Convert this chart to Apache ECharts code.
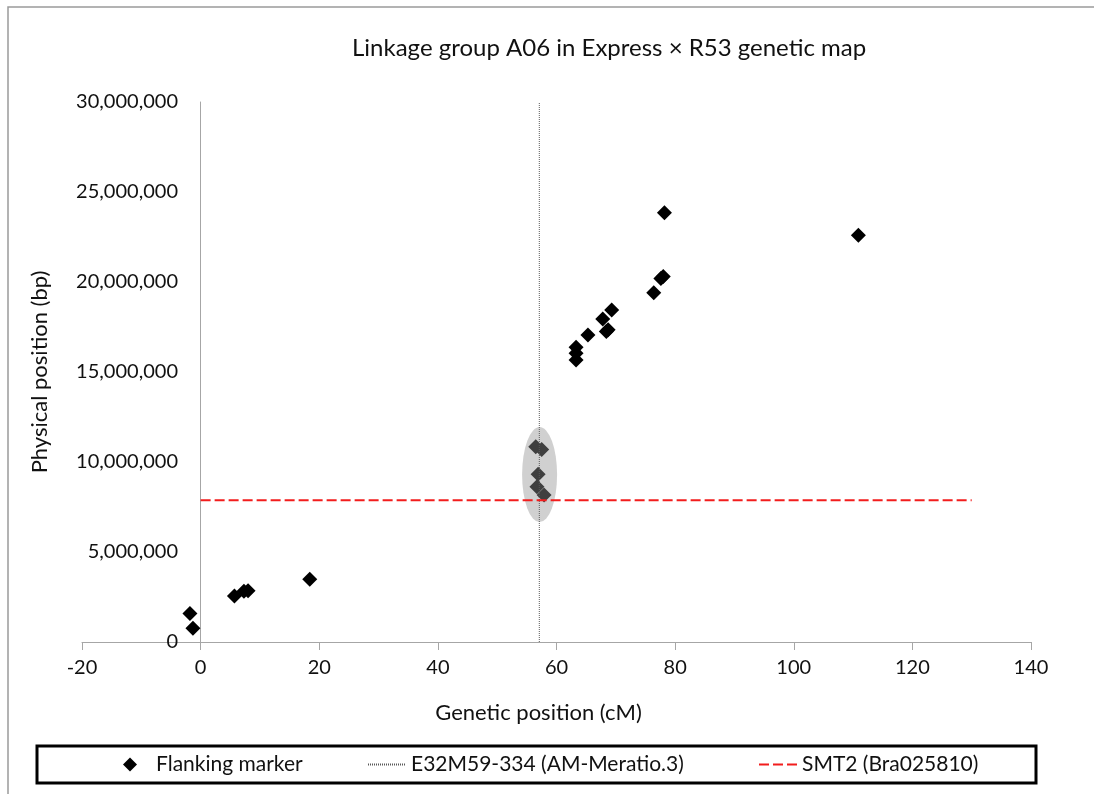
<!DOCTYPE html>
<html lang="en">
<head>
  <meta charset="UTF-8">
  <title>Linkage group A06</title>
  <script src="https://cdn.jsdelivr.net/npm/echarts@6/dist/echarts.min.js"></script>
  <style>
    html, body { margin: 0; padding: 0; background: #fff; }
    #chart { width: 1094px; height: 794px; }
  </style>
</head>
<body>
  <div id="chart"></div>
  <script>
    // flanking markers: genetic position (cM) and physical position (bp)
    const geneticPos = [
      -1.8, -1.3, 5.7, 7.3, 8.0, 18.4,
      56.5, 57.5, 56.9, 56.7, 57.9,
      63.3, 63.3, 63.3, 65.3, 68.4, 68.7, 67.8, 69.3, 76.4, 77.6, 78.0, 78.2,
      110.9
    ];
    const physicalPos = [
      1590000, 760000, 2560000, 2820000, 2850000, 3480000,
      10850000, 10700000, 9320000, 8630000, 8170000,
      15670000, 16040000, 16370000, 17060000, 17250000, 17350000, 17940000, 18440000, 19400000, 20200000, 20300000, 23850000,
      22600000
    ];
    // highlighted cluster (ellipse centre)
    const clusterCentre = [57.15, 9300000];
    // E32M59-334 marker position and SMT2 gene position
    const markerCM = 57.1;
    const markerSpan = [0, 30000000];
    const smt2Bp = 7870000;
    const smt2Span = [0, 130];

    const names = ['Flanking marker', 'E32M59-334 (AM-Meratio.3)', 'SMT2 (Bra025810)'];
    const FONT = 'Lato';

    const chart = echarts.init(document.getElementById('chart'));
    const points = geneticPos.map((x, i) => [x, physicalPos[i]]);

    const legendBase = {
      orient: 'horizontal', top: 754, padding: 0,
      itemWidth: 38, itemHeight: 14, itemGap: 0,
      textStyle: { fontFamily: FONT, fontSize: 21, color: '#111' }
    };

    chart.setOption({
      animation: false,
      backgroundColor: '#fff',
      title: {
        text: 'Linkage group A06 in Express \u00d7 R53 genetic map',
        left: 347, top: 31,
        textStyle: { fontFamily: FONT, fontSize: 24, fontWeight: 'normal', color: '#111' }
      },
      grid: { left: 82, right: 63, top: 102, bottom: 152, containLabel: false, outerBoundsMode: 'none' },
      xAxis: {
        type: 'value', min: -20, max: 140, interval: 20,
        name: 'Genetic position (cM)', nameLocation: 'middle', nameGap: 60,
        nameTextStyle: { fontFamily: FONT, fontSize: 22, color: '#111', padding: [0, 36, 0, 0] },
        axisLine: { lineStyle: { color: '#a6a6a6', width: 1 } },
        axisTick: { show: true, length: 8, lineStyle: { color: '#a6a6a6' } },
        axisLabel: { fontFamily: FONT, fontSize: 20, color: '#111', margin: 16 },
        splitLine: { show: false }
      },
      yAxis: {
        type: 'value', min: 0, max: 30000000, interval: 5000000,
        name: 'Physical position (bp)', nameLocation: 'middle', nameGap: 31,
        nameTextStyle: { fontFamily: FONT, fontSize: 22, color: '#111' },
        axisLine: { onZero: true, lineStyle: { color: '#a6a6a6', width: 1 } },
        axisTick: { show: false },
        axisLabel: {
          fontFamily: FONT, fontSize: 20, color: '#111', margin: -96,
          formatter: v => v.toLocaleString('en-US')
        },
        splitLine: { show: false }
      },
      legend: [
        Object.assign({}, legendBase, {
          left: 123, itemWidth: 14, data: [{ name: names[0], icon: 'diamond' }],
          textStyle: Object.assign({}, legendBase.textStyle, { padding: [0, 0, 0, 14] })
        }),
        Object.assign({}, legendBase, { left: 367, data: [names[1]], itemStyle: { opacity: 0 } }),
        Object.assign({}, legendBase, { left: 758, data: [names[2]], itemStyle: { opacity: 0 } })
      ],
      graphic: [
        {
          type: 'rect', silent: true,
          shape: { x: 8, y: 7, width: 1100, height: 800 },
          style: { fill: 'none', stroke: '#9a9a9a', lineWidth: 1.5 }
        },
        {
          type: 'rect', silent: true,
          shape: { x: 37, y: 746, width: 999, height: 37 },
          style: { fill: 'none', stroke: '#000', lineWidth: 3 }
        }
      ],
      series: [
        {
          name: names[0], type: 'scatter', data: points,
          symbol: 'diamond', symbolSize: 15, z: 2,
          itemStyle: { color: '#000', opacity: 1 }
        },
        {
          name: 'cluster', type: 'scatter', data: [clusterCentre],
          symbol: 'circle', symbolSize: [35, 95], z: 3, silent: true,
          itemStyle: { color: 'rgba(147,147,147,0.43)', opacity: 1 }
        },
        {
          name: names[1], type: 'line', z: 4,
          data: markerSpan.map(y => [markerCM, y]),
          symbol: 'none',
          lineStyle: { color: '#595959', width: 1, type: [1, 1] },
          itemStyle: { color: '#595959' }
        },
        {
          name: names[2], type: 'line', z: 5,
          data: smt2Span.map(x => [x, smt2Bp]),
          symbol: 'none',
          lineStyle: { color: '#f21d1d', width: 2, type: [10, 4] },
          itemStyle: { color: '#f21d1d' }
        }
      ]
    });
  </script>
</body>
</html>
